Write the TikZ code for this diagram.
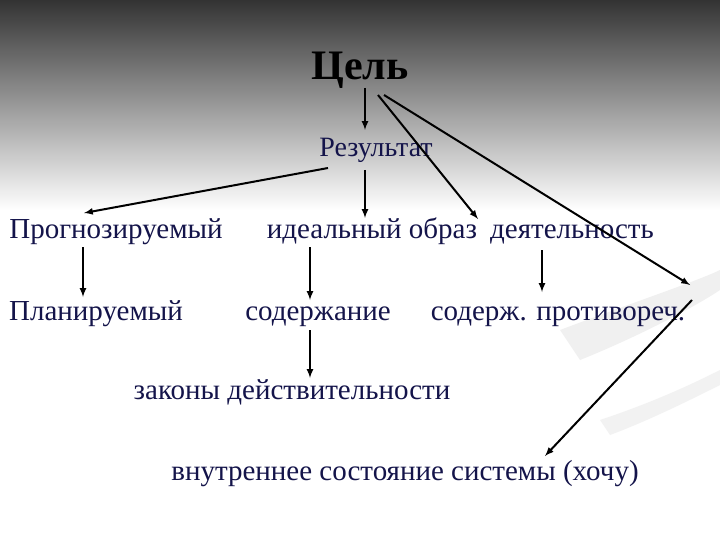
\documentclass[tikz,border=0pt]{standalone}
\usepackage{fontspec}
\setmainfont{Liberation Serif}
\definecolor{txt}{HTML}{14144A}
\begin{document}
\begin{tikzpicture}[x=1pt,y=-1pt,
  lbl/.style={text=txt,font=\fontsize{29}{31}\selectfont,inner sep=1pt,text height=20pt,text depth=6pt},
  ilbl/.style={lbl},
  arr/.style={-latex,line width=2pt,black}]
\useasboundingbox (0,0) rectangle (720,540);
\fill[white] (0,0) rectangle (720,540);
\shade[top color=black!80,bottom color=white] (0,0) rectangle (720,210);
\fill[black!6] (560,330) .. controls (640,300) and (700,280) .. (720,270) -- (720,290) .. controls (690,310) and (630,340) .. (580,360) -- cycle;
\fill[black!5] (600,420) .. controls (660,400) and (700,380) .. (720,370) -- (720,385) .. controls (690,400) and (650,420) .. (610,435) -- cycle;
\node[lbl,font=\fontsize{42}{44}\selectfont\bfseries,text=black,text height=29pt,text depth=2pt] (cel) at (360,66) {Цель};
\node[lbl,font=\fontsize{28}{30}\selectfont] (res) at (376,150) {Результат};
\node[lbl] (prog) at (116,232) {Прогнозируемый};
\node[ilbl] (ideal) at (372,232) {идеальный образ};
\node[ilbl] (deyat) at (572,232) {деятельность};
\node[lbl] (plan) at (96,313) {Планируемый};
\node[ilbl] (sod) at (318,313) {содержание};
\node[ilbl] (prot) at (558,313) {содерж. противореч.};
\node[ilbl] (zak) at (292,392) {законы действительности};
\node[ilbl] (vnut) at (405,473) {внутреннее состояние системы (хочу)};
\coordinate (c1) at (365,88);
\coordinate (c2) at (378,95);
\coordinate (c3) at (384,95);
\coordinate (r1) at (328,168);
\coordinate (r2) at (365,170);
\coordinate (p1) at (83,247);
\coordinate (i1) at (310,247);
\coordinate (s1) at (310,330);
\coordinate (d1) at (542,250);
\coordinate (turn) at (690,285);
\draw[arr] (c1) -- (365,130);
\draw[arr] (c2) -- (478,219);
\draw[arr] (c3) -- (turn);
\draw[arr] (r1) -- (84,213);
\draw[arr] (r2) -- (365,218);
\draw[arr] (p1) -- (83,297);
\draw[arr] (i1) -- (310,300);
\draw[arr] (s1) -- (310,378);
\draw[arr] (d1) -- (542,292);
\draw[arr] (692,300) -- (545,456);
\end{tikzpicture}
\end{document}
